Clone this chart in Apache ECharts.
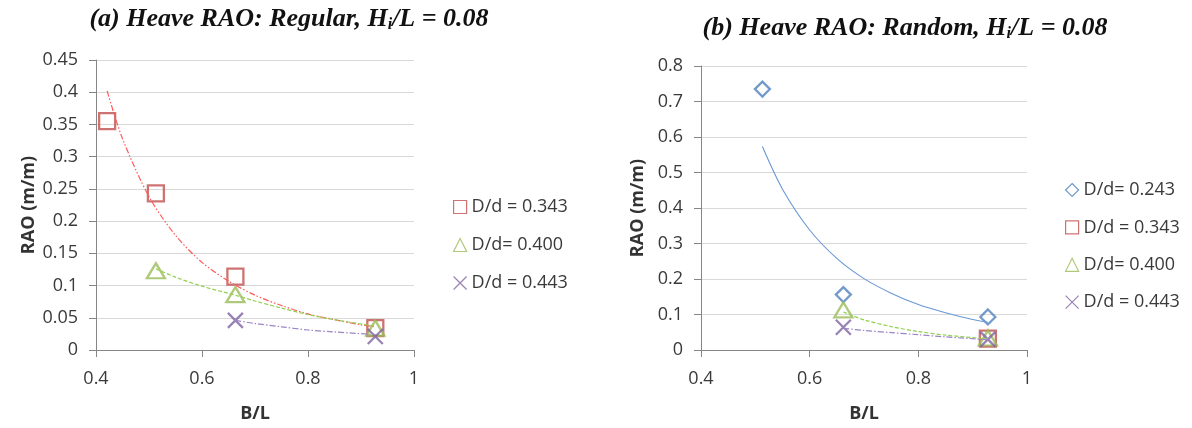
<!DOCTYPE html>
<html><head><meta charset="utf-8">
<script src="https://cdn.jsdelivr.net/npm/echarts@6/dist/echarts.min.js"></script>
<style>html,body{margin:0;padding:0;background:#fff}#c{width:1192px;height:428px}</style>
</head><body><div id="c"></div>
<script>
// B/L values of the tested cases
const bl = [0.421, 0.513, 0.663, 0.927];
const blR = [0.421, 0.513, 0.662, 0.928];
// (a) Regular waves: heave RAO
const regular343 = [0.355, 0.243, 0.114, 0.034];
const regular400 = [null, 0.123, 0.086, 0.034];
const regular443 = [null, null, 0.046, 0.021];
// (b) Random waves: heave RAO
const random243 = [null, 0.735, 0.156, 0.093];
const random343 = [null, null, null, 0.032];
const random400 = [null, null, 0.113, 0.034];
const random443 = [null, null, 0.064, 0.030];
// trend lines
const trendA343x = [0.421,0.45,0.5,0.55,0.6,0.65,0.7,0.75,0.8,0.85,0.9,0.927];
const trendA343y = [0.402,0.328,0.238,0.178,0.136,0.107,0.085,0.069,0.056,0.047,0.039,0.036];
const trendA400x = [0.513,0.55,0.6,0.663,0.7,0.75,0.8,0.85,0.927];
const trendA400y = [0.126,0.113,0.099,0.085,0.076,0.065,0.055,0.047,0.037];
const trendA443x = [0.663,0.7,0.75,0.8,0.85,0.927];
const trendA443y = [0.046,0.041,0.036,0.031,0.028,0.024];
const trendB243x = [0.513,0.55,0.6,0.65,0.7,0.75,0.8,0.85,0.9,0.928];
const trendB243y = [0.573,0.453,0.338,0.258,0.201,0.160,0.128,0.105,0.086,0.078];
const trendB400x = [0.662,0.7,0.75,0.8,0.85,0.928];
const trendB400y = [0.107,0.085,0.066,0.052,0.042,0.031];
const trendB443x = [0.662,0.7,0.75,0.8,0.85,0.928];
const trendB443y = [0.061,0.055,0.049,0.043,0.037,0.029];
// labels
const names = {d243:'D/d= 0.243', d343:'D/d = 0.343', d400:'D/d= 0.400', d443:'D/d = 0.443'};
const titleA = ['(a) Heave RAO: Regular, H', 'i', '/L = 0.08'];
const titleB = ['(b) Heave RAO: Random, H', 'i', '/L = 0.08'];

const C = {red:'#C0504D', green:'#9BBB59', purple:'#8064A2', blue:'#4F81BD'};
const XPATH = 'path://M0,0 L10,10 M10,0 L0,10';
const FONT = "'Open Sans', sans-serif";

function pairs(xs, ys){ const o=[]; xs.forEach((x,i)=>{ if(ys[i]!=null) o.push([x,ys[i]]); }); return o; }

function markSeries(name, xs, ys, idx, sym, size, color){
  return {type:'scatter', name, xAxisIndex:idx, yAxisIndex:idx, data:pairs(xs,ys),
    symbol:sym, symbolSize:size, z:3,
    itemStyle:{color:'rgba(0,0,0,0)', borderColor:color, borderWidth:2.3},
    emphasis:{disabled:true}, silent:true};
}
function trendSeries(name, xs, ys, idx, color, type, width){
  return {type:'line', name, xAxisIndex:idx, yAxisIndex:idx, data:pairs(xs,ys),
    showSymbol:false, smooth:0.3, z:4, silent:true,
    lineStyle:{color, width:width||1.2, type}, emphasis:{disabled:true}};
}
function titleRich(parts, left, top){
  return {text:'{a|'+parts[0]+'}{s|'+parts[1]+'}{a|'+parts[2]+'}', left, top, textAlign:'center',
    textStyle:{rich:{
      a:{fontFamily:"'Liberation Serif', serif", fontStyle:'italic', fontWeight:'bold', fontSize:26, color:'#111'},
      s:{fontFamily:"'Liberation Serif', serif", fontStyle:'italic', fontWeight:'bold', fontSize:16, color:'#111', verticalAlign:'bottom', padding:[12,0,0,0]}
    }}};
}
function xAx(idx){
  return {type:'value', gridIndex:idx, min:0.4, max:1, interval:0.2,
    name:'B/L', nameLocation:'middle', nameGap:55,
    nameTextStyle:{fontFamily:FONT, fontWeight:'bold', fontSize:18, color:'#333'},
    axisLine:{show:true, onZero:false, lineStyle:{color:'#868686', width:1}},
    axisTick:{show:true, length:7, lineStyle:{color:'#868686'}},
    axisLabel:{fontFamily:FONT, fontSize:18, color:'#3A3A3A', margin:20},
    splitLine:{show:false}};
}
function yAx(idx, max, interval, gap){
  return {type:'value', gridIndex:idx, min:0, max, interval,
    name:'RAO (m/m)', nameLocation:'middle', nameGap:gap, nameRotate:90,
    nameTextStyle:{fontFamily:FONT, fontWeight:'bold', fontSize:18, color:'#333'},
    axisLine:{show:true, lineStyle:{color:'#868686', width:1}},
    axisTick:{show:true, length:7, lineStyle:{color:'#868686'}},
    axisLabel:{fontFamily:FONT, fontSize:18, color:'#3A3A3A', margin:18},
    splitLine:{show:true, lineStyle:{color:'#D9D9D9', width:1}}};
}
function legItem(name, icon, color){
  return {name, icon, itemStyle:{color:'rgba(0,0,0,0)', borderColor:color, borderWidth:1.2}};
}

const chart = echarts.init(document.getElementById('c'), null, {renderer:'canvas'});
chart.setOption({
  animation:false,
  backgroundColor:'#fff',
  title:[titleRich(titleA, 284, 0), titleRich(titleB, 900, 9)],
  grid:[
    {left:96, right:778, top:60, bottom:72},
    {left:701, right:165, top:66, bottom:71}
  ],
  xAxis:[xAx(0), xAx(1)],
  yAxis:[yAx(0, 0.45, 0.05, 58), yAx(1, 0.8, 0.1, 54)],
  legend:[
    {orient:'vertical', left:448, top:193, itemWidth:13, itemHeight:13, itemGap:20,
     selectedMode:false, textStyle:{fontFamily:FONT, fontSize:18, color:'#3A3A3A'},
     data:[legItem(names.d343,'rect',C.red), legItem(names.d400,'triangle',C.green), legItem(names.d443,XPATH,C.purple)]},
    {orient:'vertical', left:1060, top:176, itemWidth:13, itemHeight:13, itemGap:19.4,
     selectedMode:false, textStyle:{fontFamily:FONT, fontSize:18, color:'#3A3A3A'},
     data:[legItem(names.d243,'diamond',C.blue), legItem(names.d343,'rect',C.red), legItem(names.d400,'triangle',C.green), legItem(names.d443,XPATH,C.purple)]}
  ],
  series:[
    trendSeries('tA343', trendA343x, trendA343y, 0, '#FF5A5A', [6,2,1.5,2,1.5,2]),
    trendSeries('tA400', trendA400x, trendA400y, 0, '#92D050', [4,2]),
    trendSeries('tA443', trendA443x, trendA443y, 0, '#9B86C4', [6,2,1.5,2]),
    markSeries(names.d343, bl, regular343, 0, 'rect', 16, C.red),
    markSeries(names.d400, bl, regular400, 0, 'triangle', [18,15], C.green),
    markSeries(names.d443, bl, regular443, 0, XPATH, 15, C.purple),
    trendSeries('tB243', trendB243x, trendB243y, 1, '#6A98D4', 'solid', 1.1),
    trendSeries('tB400', trendB400x, trendB400y, 1, '#92D050', [4,2]),
    trendSeries('tB443', trendB443x, trendB443y, 1, '#9B86C4', [6,2,1.5,2]),
    markSeries(names.d243, blR, random243, 1, 'diamond', 15, C.blue),
    markSeries(names.d343, blR, random343, 1, 'rect', 16, C.red),
    markSeries(names.d400, blR, random400, 1, 'triangle', [18,15], C.green),
    markSeries(names.d443, blR, random443, 1, XPATH, 15, C.purple)
  ]
});
</script></body></html>
